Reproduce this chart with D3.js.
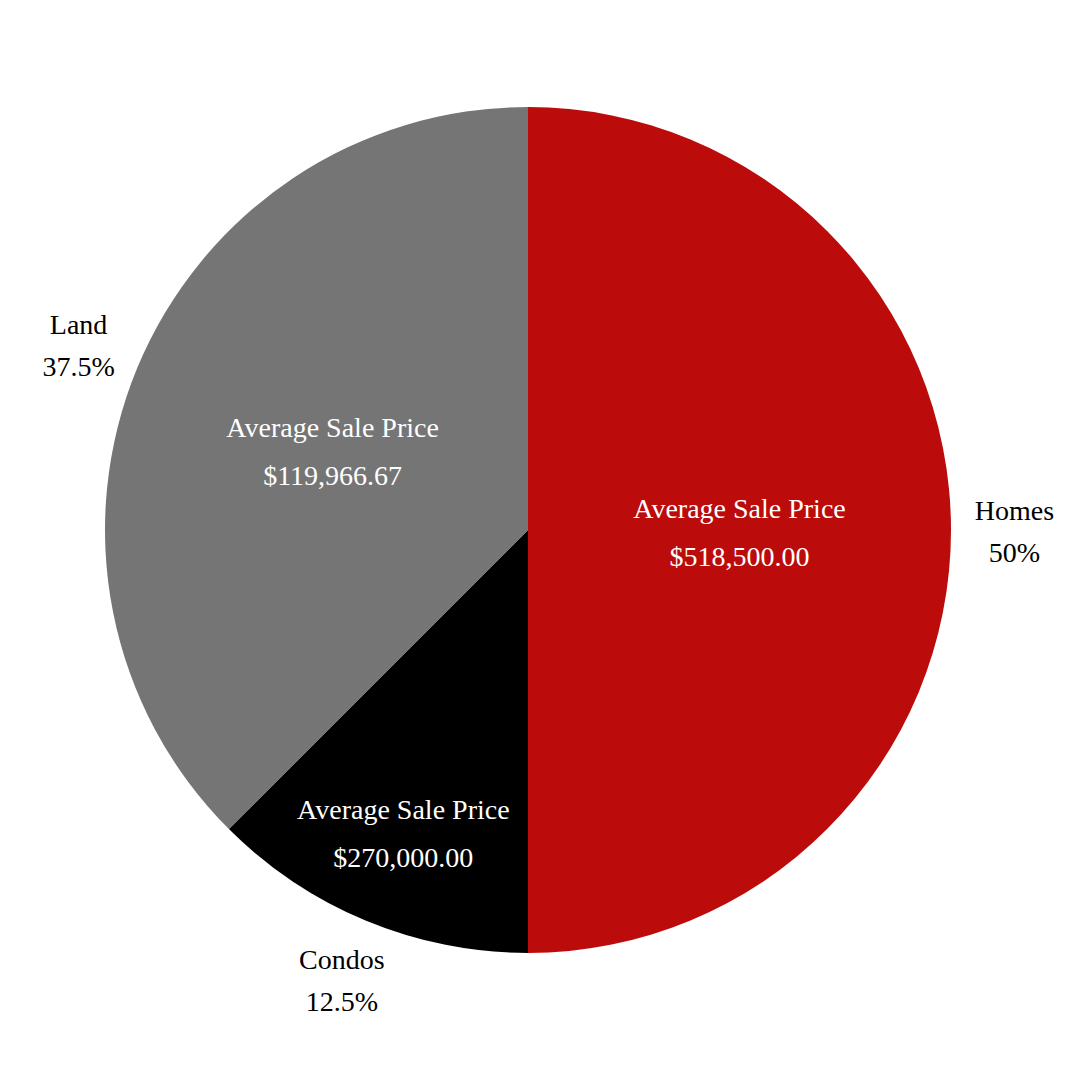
<!DOCTYPE html>
<html><head><meta charset="utf-8">
<script src="https://cdn.jsdelivr.net/npm/d3@7"></script>
<style>body{margin:0;background:#fff}</style>
</head><body>
<svg id="c" width="1080" height="1080"></svg>
<script>
var categories = ["Homes", "Condos", "Land"];
var shares = [50, 12.5, 37.5];
var avgPrices = [518500, 270000, 119966.67];
var colors = ["#bb0b0b", "#000000", "#757575"];
var innerPos = [0.5, 0.77, 0.5];

var cx = 528, cy = 530, R = 423;
var svg = d3.select("#c");
var g = svg.append("g").attr("transform", "translate(" + cx + "," + cy + ")");

var pie = d3.pie().sort(null).value(function(d) { return d; });
var arcs = pie(shares);
var arc = d3.arc().innerRadius(0).outerRadius(R);
var fmt = d3.format("$,.2f");

g.selectAll("path").data(arcs).enter().append("path")
  .attr("d", arc)
  .attr("fill", function(d, i) { return colors[i]; });

var font = "'Liberation Serif', 'DejaVu Serif', serif";

arcs.forEach(function(d, i) {
  var a = (d.startAngle + d.endAngle) / 2;
  var r1 = R * innerPos[i];
  var x = Math.sin(a) * r1, y = -Math.cos(a) * r1;
  var t = g.append("text").attr("text-anchor", "middle").attr("fill", "#fff")
    .style("font-family", font).style("font-size", "28px");
  t.append("tspan").attr("x", x).attr("y", y - 12).text("Average Sale Price");
  t.append("tspan").attr("x", x).attr("y", y + 36).text(fmt(avgPrices[i]));

  var r2 = R * 1.15;
  var ox = Math.sin(a) * r2, oy = -Math.cos(a) * r2;
  var o = g.append("text").attr("text-anchor", "middle").attr("fill", "#000")
    .style("font-family", font).style("font-size", "28px");
  o.append("tspan").attr("x", ox).attr("y", oy - 10).text(categories[i]);
  o.append("tspan").attr("x", ox).attr("y", oy + 32).text(shares[i] + "%");
});
</script>
</body></html>
